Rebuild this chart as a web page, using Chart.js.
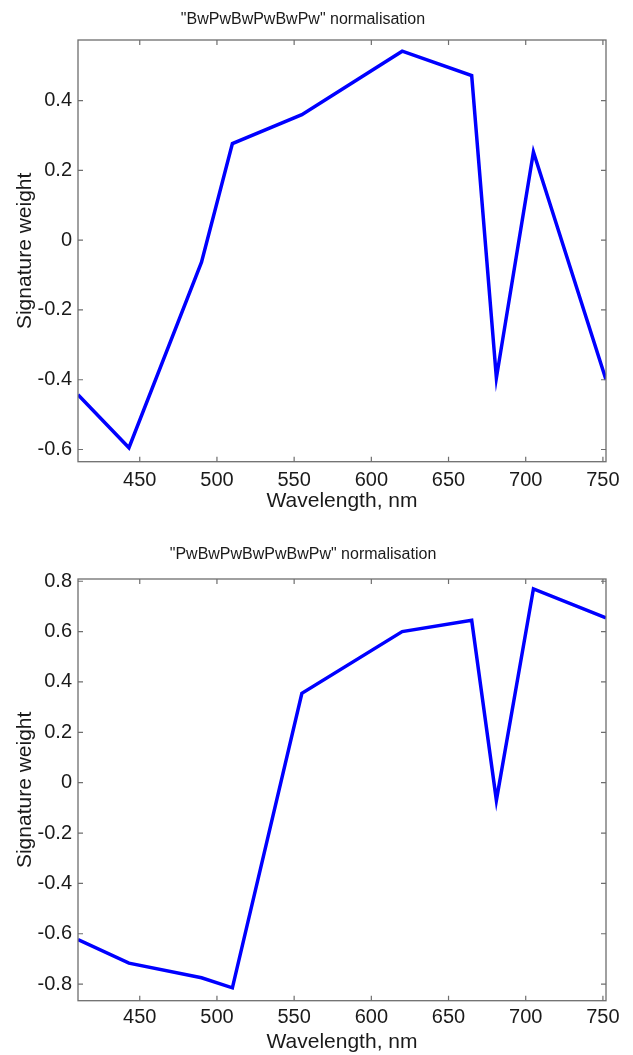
<!DOCTYPE html>
<html><head><meta charset="utf-8">
<script src="https://cdn.jsdelivr.net/npm/chart.js@4.4.0/dist/chart.umd.min.js"></script>
<style>
html,body{margin:0;padding:0;background:#fff;width:633px;height:1055px;overflow:hidden;}
#c1{position:absolute;left:0;top:0;}
#c2{position:absolute;left:0;top:527px;}
</style>
</head><body>
<canvas id="c1" width="633" height="527"></canvas>
<canvas id="c2" width="633" height="528"></canvas>
<script>
// ---- data ----
const wavelengths = [410, 443, 490, 510, 555, 620, 665, 681, 705, 752];
const weightsBw = [-0.443, -0.595, -0.063, 0.277, 0.36, 0.542, 0.472, -0.395, 0.253, -0.40];
const weightsPw = [-0.623, -0.717, -0.775, -0.815, 0.355, 0.60, 0.645, -0.07, 0.77, 0.655];
const xTicks = [450, 500, 550, 600, 650, 700, 750];
const yTicksBw = [-0.6, -0.4, -0.2, 0, 0.2, 0.4];
const yTicksPw = [-0.8, -0.6, -0.4, -0.2, 0, 0.2, 0.4, 0.6, 0.8];
const titles = ['"BwPwBwPwBwPw" normalisation', '"PwBwPwBwPwBwPw" normalisation'];
const xTitle = 'Wavelength, nm';
const yTitle = 'Signature weight';

const FONT = "'Liberation Sans', Arial, Helvetica, sans-serif";
const TXT = '#1a1a1a';

const framePlugin = {
  id: 'frame',
  afterDatasetsDraw(chart) {
    const {ctx, chartArea: a, scales: {x, y}} = chart;
    ctx.save();
    ctx.strokeStyle = '#6e6e6e';
    ctx.lineWidth = 1.3;
    ctx.strokeRect(a.left, a.top, a.right - a.left, a.bottom - a.top);
    ctx.lineWidth = 1.2;
    const L = 5;
    ctx.beginPath();
    x.ticks.forEach(t => {
      const px = x.getPixelForValue(t.value);
      ctx.moveTo(px, a.bottom); ctx.lineTo(px, a.bottom - L);
      ctx.moveTo(px, a.top); ctx.lineTo(px, a.top + L);
    });
    y.ticks.forEach(t => {
      const py = y.getPixelForValue(t.value);
      ctx.moveTo(a.left, py); ctx.lineTo(a.left + L, py);
      ctx.moveTo(a.right, py); ctx.lineTo(a.right - L, py);
    });
    ctx.stroke();
    ctx.restore();
  }
};

function makeChart(id, values, yTicks, yMin, yMax, title, cfg) {
  const pts = wavelengths.map((w, i) => ({x: w, y: values[i]}));
  return new Chart(document.getElementById(id), {
    type: 'line',
    data: { datasets: [{ data: pts, borderColor: '#0000ff', borderWidth: 3.5,
      pointRadius: 0, tension: 0, fill: false, borderJoinStyle: 'miter' }] },
    options: {
      responsive: false, animation: false, devicePixelRatio: 1,
      layout: { padding: { left: 0, right: 27, top: 0, bottom: 0 } },
      plugins: {
        legend: { display: false }, tooltip: { enabled: false },
        title: { display: true, text: title, color: TXT,
          font: { family: FONT, size: 16, weight: 'normal' },
          padding: { top: cfg.titleTop, bottom: cfg.titleBottom } }
      },
      scales: {
        x: {
          type: 'linear', min: 410, max: 752,
          grid: { display: false, drawTicks: false }, border: { display: false },
          afterBuildTicks: s => { s.ticks = xTicks.map(v => ({value: v})); },
          afterFit: s => { s.height = cfg.xHeight; },
          ticks: { color: TXT, font: { family: FONT, size: 20 }, padding: cfg.xPad,
            maxRotation: 0, autoSkip: false, callback: v => String(v) },
          title: { display: true, text: xTitle, color: TXT,
            font: { family: FONT, size: 21 }, padding: { top: 0, bottom: cfg.xTitleBottom } }
        },
        y: {
          type: 'linear', min: yMin, max: yMax,
          grid: { display: false, drawTicks: false }, border: { display: false },
          afterBuildTicks: s => { s.ticks = yTicks.map(v => ({value: v})); },
          afterFit: s => { s.width = 78; },
          ticks: { color: TXT, font: { family: FONT, size: 20 }, padding: 6,
            autoSkip: false, callback: v => (Math.abs(v) < 1e-9 ? '0' : v.toFixed(1)) },
          title: { display: true, text: yTitle, color: TXT,
            font: { family: FONT, size: 21 }, padding: { top: 12.4, bottom: 0 } }
        }
      }
    },
    plugins: [framePlugin]
  });
}

makeChart('c1', weightsBw, yTicksBw, -0.635, 0.574, titles[0],
  { titleTop: 10.4, titleBottom: 10.4, xHeight: 65.3, xPad: 6.3, xTitleBottom: 13.4 });
makeChart('c2', weightsPw, yTicksPw, -0.866, 0.809, titles[1],
  { titleTop: 18.4, titleBottom: 14.4, xHeight: 54.3, xPad: 4.8, xTitleBottom: 0.4 });
</script>
</body></html>
